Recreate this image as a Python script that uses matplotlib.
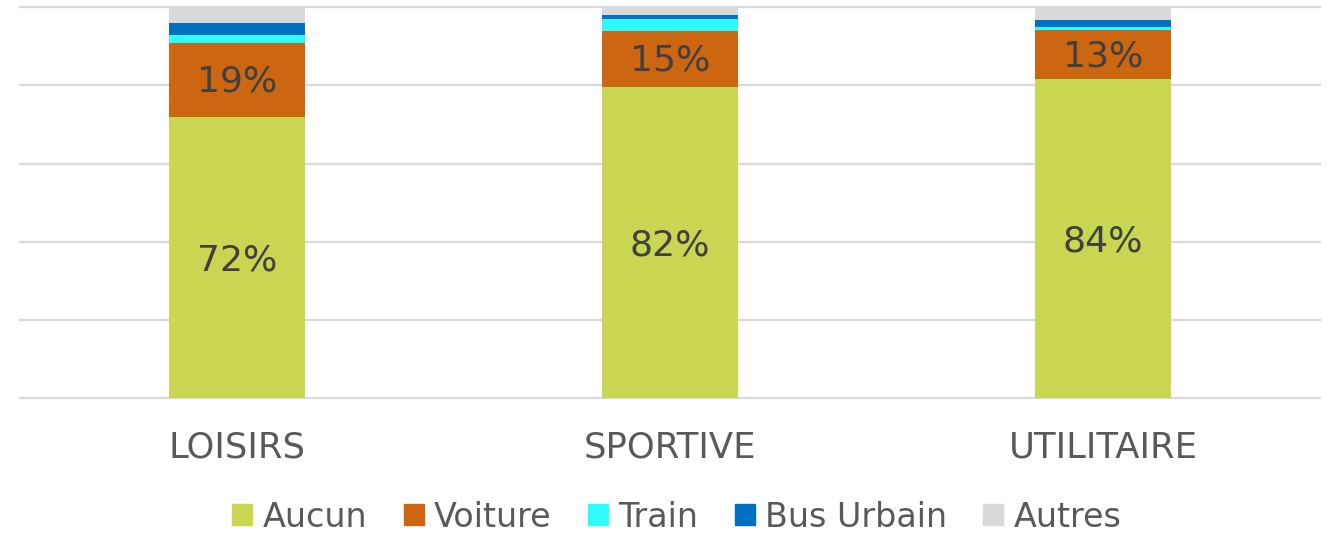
import numpy as np
import matplotlib.pyplot as plt
from matplotlib.patches import Patch

categories = ['LOISIRS', 'SPORTIVE', 'UTILITAIRE']
series = ['Aucun', 'Voiture', 'Train', 'Bus Urbain', 'Autres']
aucun = [72.0, 79.7, 81.6]
voiture = [18.9, 14.3, 12.6]
train = [2.1, 3.0, 0.8]
bus = [3.0, 1.0, 1.9]
autres = [4.0, 2.0, 3.1]
aucun_labels = ['72%', '82%', '84%']
voiture_labels = ['19%', '15%', '13%']
colors = ['#C9D651', '#CC6610', '#2EFBFF', '#0070C0', '#D9D9D9']

plt.rcParams['font.family'] = ['DejaVu Sans']

fig = plt.figure(figsize=(13.27, 5.33), dpi=100)
ax = fig.add_axes([0.0154, 0.254, 0.979, 0.732])

x = np.arange(len(categories))
bottom = np.zeros(len(categories))
values = [aucun, voiture, train, bus, autres]
for name, vals, col in zip(series, values, colors):
    ax.bar(x, vals, width=0.314, bottom=bottom, color=col, zorder=2)
    bottom += np.array(vals)

for i in range(len(categories)):
    ax.text(x[i], aucun[i] / 2 - 0.8, aucun_labels[i], ha='center',
            va='center', fontsize=26, color='#404040', zorder=3)
    ax.text(x[i], aucun[i] + voiture[i] / 2 - 0.5, voiture_labels[i],
            ha='center', va='center', fontsize=26, color='#404040', zorder=3)

for g in range(0, 101, 20):
    ax.axhline(g, color='#D9D9D9', lw=1.6, zorder=1, clip_on=False)

ax.set_xlim(-0.5, 2.5)
ax.set_ylim(0, 100)
ax.set_yticks([])
ax.set_xticks(x)
ax.set_xticklabels(categories, fontsize=25.5, color='#595959')
ax.tick_params(axis='x', length=0, pad=24)
for s in ax.spines.values():
    s.set_visible(False)

handles = [Patch(color=c, label=n) for n, c in zip(series, colors)]
fig.legend(handles=handles, loc='center', bbox_to_anchor=(0.51, 0.03),
           ncol=5, frameon=False, fontsize=24, labelcolor='#595959',
           handlelength=0.6, handleheight=0.6, handletextpad=0.3,
           columnspacing=1.1, borderaxespad=0)

fig.savefig('out.png', dpi=100)
